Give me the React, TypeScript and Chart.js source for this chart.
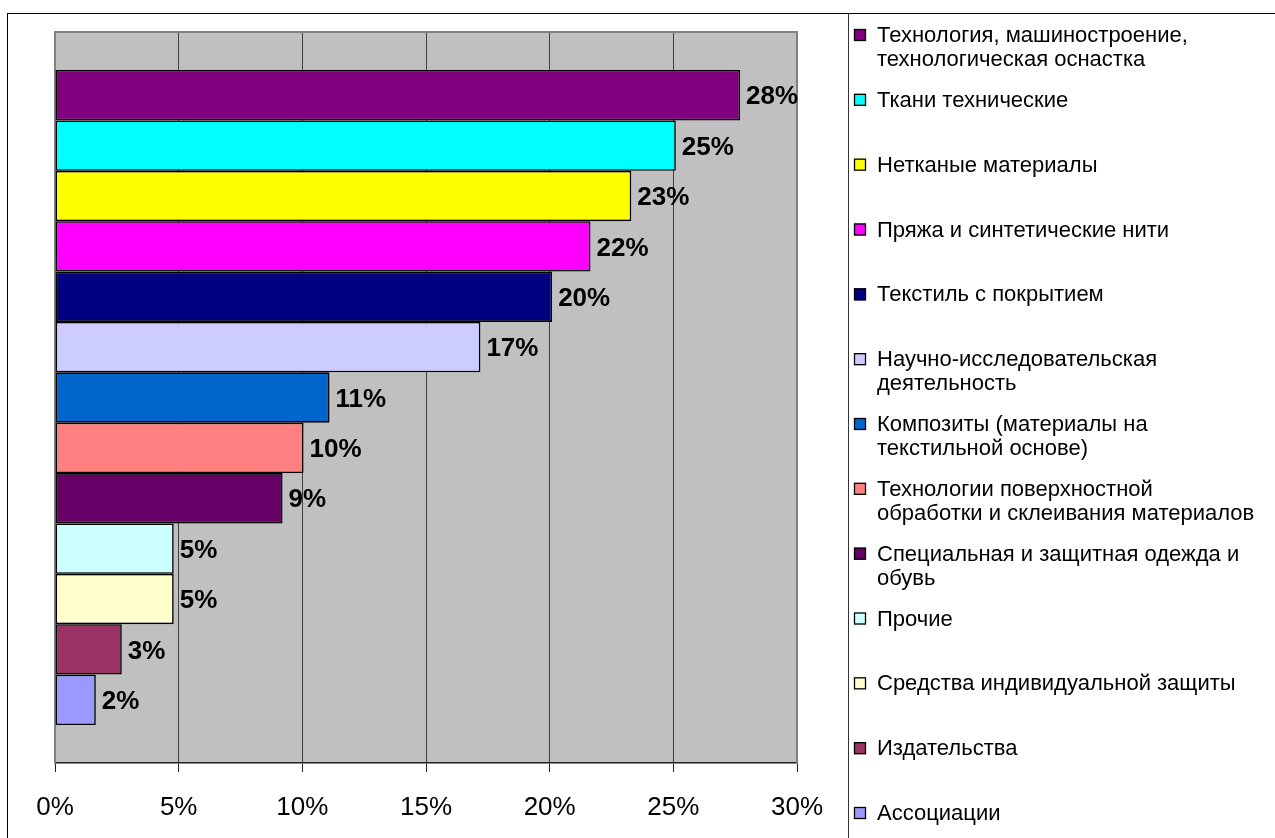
import React, { useEffect, useRef } from 'react';
import { Chart, registerables } from 'chart.js';

Chart.register(...registerables);

const seriesNames: string[] = [
  'Технология, машиностроение, технологическая оснастка',
  'Ткани технические',
  'Нетканые материалы',
  'Пряжа и синтетические нити',
  'Текстиль с покрытием',
  'Научно-исследовательская деятельность',
  'Композиты (материалы на текстильной основе)',
  'Технологии поверхностной обработки и склеивания материалов',
  'Специальная и защитная одежда и обувь',
  'Прочие',
  'Средства индивидуальной защиты',
  'Издательства',
  'Ассоциации',
];

const legendLines: string[][] = [
  ['Технология, машиностроение,', 'технологическая оснастка'],
  ['Ткани технические'],
  ['Нетканые материалы'],
  ['Пряжа и синтетические нити'],
  ['Текстиль с покрытием'],
  ['Научно-исследовательская', 'деятельность'],
  ['Композиты (материалы на', 'текстильной основе)'],
  ['Технологии поверхностной', 'обработки и склеивания материалов'],
  ['Специальная и защитная одежда и', 'обувь'],
  ['Прочие'],
  ['Средства индивидуальной защиты'],
  ['Издательства'],
  ['Ассоциации'],
];

const seriesValues: number[] = [27.7, 25.1, 23.3, 21.65, 20.1, 17.2, 11.1, 10.05, 9.2, 4.8, 4.8, 2.7, 1.65];

const seriesColors: string[] = [
  '#800080', '#00FFFF', '#FFFF00', '#FF00FF', '#000080', '#CCCCFF', '#0066CC',
  '#FF8080', '#660066', '#CCFFFF', '#FFFFCC', '#993366', '#9999FF',
];

const axisMin = 0;
const axisMax = 30;
const axisStep = 5;

const FONT = '"Liberation Sans", Arial, sans-serif';
const W = 1275;
const H = 838;

export default function App() {
  const ref = useRef<HTMLCanvasElement | null>(null);

  useEffect(() => {
    if (!ref.current) return;

    const framePlugin = {
      id: 'frame',
      beforeDraw(chart: any) {
        const { ctx, chartArea } = chart;
        ctx.save();
        ctx.fillStyle = '#FFFFFF';
        ctx.fillRect(0, 0, W, H);
        ctx.fillStyle = '#C0C0C0';
        ctx.fillRect(chartArea.left, chartArea.top, chartArea.right - chartArea.left, chartArea.bottom - chartArea.top);
        ctx.restore();
      },
      beforeDatasetsDraw(chart: any) {
        const { ctx, chartArea } = chart;
        ctx.save();
        ctx.strokeStyle = '#808080';
        ctx.lineWidth = 2;
        ctx.beginPath();
        ctx.moveTo(chartArea.left, chartArea.bottom);
        ctx.lineTo(chartArea.left, chartArea.top);
        ctx.lineTo(chartArea.right, chartArea.top);
        ctx.lineTo(chartArea.right, chartArea.bottom);
        ctx.stroke();
        ctx.restore();
      },
      afterDatasetsDraw(chart: any) {
        const { ctx } = chart;
        ctx.save();
        ctx.font = `bold 26px ${FONT}`;
        ctx.fillStyle = '#000';
        ctx.textAlign = 'left';
        ctx.textBaseline = 'middle';
        chart.data.datasets.forEach((ds: any, i: number) => {
          const el = chart.getDatasetMeta(i).data[0];
          if (!el) return;
          ctx.fillText(`${Math.round(ds.data[0])}%`, el.x + 6, el.y + 2);
        });
        ctx.restore();
      },
      afterDraw(chart: any) {
        const { ctx } = chart;
        ctx.save();
        // outer border
        ctx.strokeStyle = '#000';
        ctx.lineWidth = 1;
        ctx.strokeRect(7.5, 13.5, W + 20, H + 20);
        // legend box left edge
        ctx.strokeStyle = '#333';
        ctx.beginPath();
        ctx.moveTo(848.5, 13);
        ctx.lineTo(848.5, H);
        ctx.stroke();
        // legend entries
        const step = (813 - 35) / (legendLines.length - 1);
        ctx.font = `22px ${FONT}`;
        ctx.textAlign = 'left';
        ctx.textBaseline = 'middle';
        legendLines.forEach((lines, i) => {
          const y = 35 + i * step;
          ctx.fillStyle = seriesColors[i];
          ctx.fillRect(854, y - 6, 12, 12);
          ctx.strokeStyle = '#000';
          ctx.lineWidth = 1.3;
          ctx.strokeRect(854.5, y - 5.5, 11, 11);
          ctx.fillStyle = '#000';
          lines.forEach((t, k) => {
            ctx.fillText(t, 877, y + 1 + k * 24);
          });
        });
        ctx.restore();
      },
    };

    const chart = new Chart(ref.current, {
      type: 'bar',
      data: {
        labels: [''],
        datasets: seriesNames.map((name, i) => ({
          label: name,
          data: [seriesValues[i]],
          backgroundColor: seriesColors[i],
          borderColor: '#000000',
          borderWidth: 1.6,
          borderSkipped: false,
          barPercentage: 1,
          categoryPercentage: 0.896,
        })),
      },
      options: {
        indexAxis: 'y',
        animation: false,
        responsive: false,
        devicePixelRatio: 1,
        layout: { padding: { left: 55, right: W - 797, top: 32, bottom: 0 } },
        scales: {
          x: {
            min: axisMin,
            max: axisMax,
            ticks: {
              stepSize: axisStep,
              callback: (v: any) => `${v}%`,
              font: { family: FONT, size: 26 },
              color: '#000',
              padding: 20,
              maxRotation: 0,
            },
            grid: {
              color: '#404040',
              lineWidth: 1,
              tickLength: 9,
              tickColor: '#202020',
            },
            border: { color: '#202020', width: 1.5 },
            afterFit: (s: any) => {
              s.height = H - 763;
            },
          },
          y: { display: false },
        },
        plugins: {
          legend: { display: false },
          tooltip: { enabled: false },
        },
      },
      plugins: [framePlugin],
    } as any);

    return () => chart.destroy();
  }, []);

  return (
    <div style={{ position: 'absolute', left: 0, top: 0, width: W, height: H, overflow: 'hidden' }}>
      <canvas ref={ref} width={W} height={H} style={{ width: W, height: H, display: 'block' }} />
    </div>
  );
}
